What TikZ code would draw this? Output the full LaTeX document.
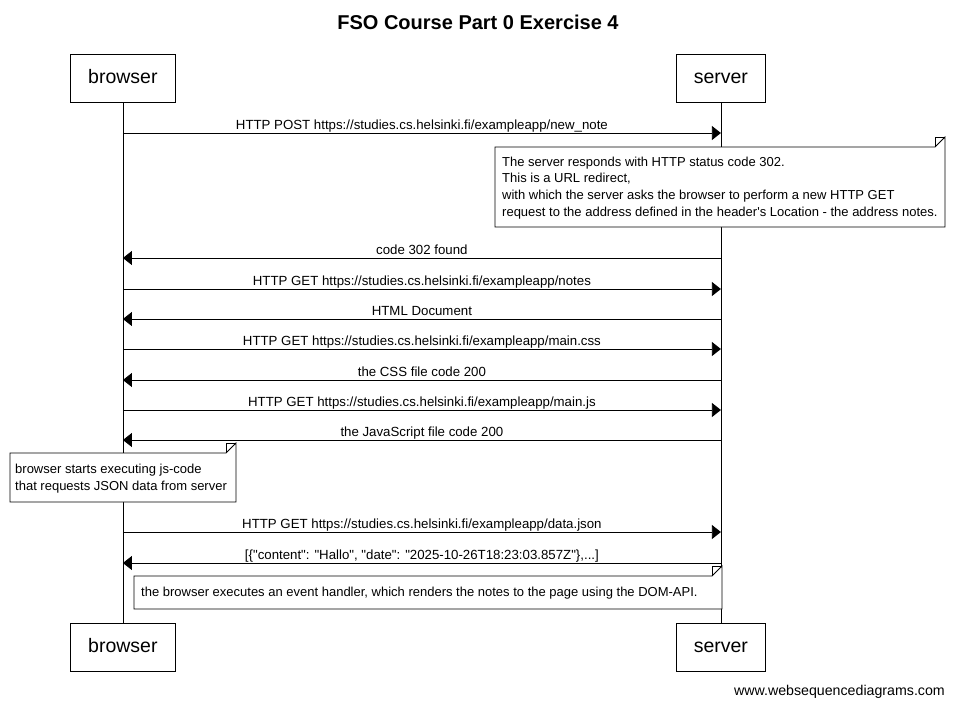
\documentclass[tikz,border=0pt]{standalone}
\usepackage{fontspec}
\setmainfont{Liberation Sans}
\usetikzlibrary{arrows.meta}
\tikzset{
  actor/.style={draw, line width=0.8pt, fill=white, minimum width=105pt, minimum height=48pt, inner sep=0pt, text height=14pt, text depth=4pt, font=\fontsize{19.5}{22}\selectfont},
  life/.style={line width=0.8pt},
  msg/.style={line width=0.8pt, -{Triangle[length=9pt,width=14pt]}},
  lbl/.style={anchor=base, inner sep=0pt, font=\fontsize{13.25}{15}\selectfont},
  noteline/.style={draw, line width=0.8pt, fill=white},
  notetxt/.style={anchor=base west, inner sep=0pt, align=left, font=\fontsize{13}{16.7}\selectfont},
}
\newcommand{\dq}{\textquotedbl}
\begin{document}
\begin{tikzpicture}[x=1pt, y=-1pt]
\useasboundingbox (0,0) rectangle (955,705);
\node[font=\bfseries\fontsize{20}{23}\selectfont, anchor=base] (title) at (478,29.5) {FSO Course Part 0 Exercise 4};

\node[actor, anchor=north west] (browser) at (70,54) {browser};
\node[actor, anchor=north west, minimum width=89pt] (server) at (676,54) {server};
\node[actor, anchor=north west] (browser2) at (70,623) {browser};
\node[actor, anchor=north west, minimum width=89pt] (server2) at (676,623) {server};

\draw[life] (browser.south) -- (browser2.north);
\draw[life] (server.south) -- (server2.north);

% messages
\foreach \y/\t in {133/{HTTP POST https://studies.cs.helsinki.fi/exampleapp/new\_note},
                   289/{HTTP GET https://studies.cs.helsinki.fi/exampleapp/notes},
                   349/{HTTP GET https://studies.cs.helsinki.fi/exampleapp/main.css},
                   410/{HTTP GET https://studies.cs.helsinki.fi/exampleapp/main.js},
                   532/{HTTP GET https://studies.cs.helsinki.fi/exampleapp/data.json}}{
  \draw[msg] (browser.south |- 0,\y) -- node[lbl, yshift=3.5pt] {\t} (server.south |- 0,\y);
}
\foreach \y/\t in {258/{code 302 found},
                   319/{HTML Document},
                   380/{the CSS file code 200},
                   440/{the JavaScript file code 200},
                   563/{[\{\dq content\dq: \dq Hallo\dq, \dq date\dq: \dq 2025-10-26T18:23:03.857Z\dq\},...]}}{
  \draw[msg] (server.south |- 0,\y) -- node[lbl, yshift=3.5pt] {\t} (browser.south |- 0,\y);
}

% note 1
\coordinate (n1a) at (495,147);
\coordinate (n1b) at (945,227);
\draw[noteline] (n1a) -- ([xshift=-10pt]n1b |- n1a) -- ([yshift=10pt]n1b |- n1a) -- (n1b) -- (n1a |- n1b) -- cycle;
\draw[line width=0.6pt] ([xshift=-10pt]n1b |- n1a) -- ([xshift=-10pt,yshift=10pt]n1b |- n1a) -- ([yshift=10pt]n1b |- n1a);
\node[notetxt] (n1t) at (502,216.3) {The server responds with HTTP status code 302.\\This is a URL redirect,\\with which the server asks the browser to perform a new HTTP GET\\request to the address defined in the header\textquotesingle s Location - the address notes.};

% note 2
\coordinate (n2a) at (10,453);
\coordinate (n2b) at (236,502);
\draw[noteline] (n2a) -- ([xshift=-10pt]n2b |- n2a) -- ([yshift=10pt]n2b |- n2a) -- (n2b) -- (n2a |- n2b) -- cycle;
\draw[line width=0.6pt] ([xshift=-10pt]n2b |- n2a) -- ([xshift=-10pt,yshift=10pt]n2b |- n2a) -- ([yshift=10pt]n2b |- n2a);
\node[notetxt] (n2t) at (15,490.2) {browser starts executing js-code\\that requests JSON data from server};

% note 3
\coordinate (n3a) at (134,576);
\coordinate (n3b) at (722,609);
\draw[noteline] (n3a) -- ([xshift=-10pt]n3b |- n3a) -- ([yshift=10pt]n3b |- n3a) -- (n3b) -- (n3a |- n3b) -- cycle;
\draw[line width=0.6pt] ([xshift=-10pt]n3b |- n3a) -- ([xshift=-10pt,yshift=10pt]n3b |- n3a) -- ([yshift=10pt]n3b |- n3a);
\node[notetxt] (n3t) at (141,596.5) {the browser executes an event handler, which renders the notes to the page using the DOM-API.};

\node[anchor=base east, inner sep=0pt, font=\fontsize{14.2}{16}\selectfont] (footer) at (945,695) {www.websequencediagrams.com};
\end{tikzpicture}
\end{document}
